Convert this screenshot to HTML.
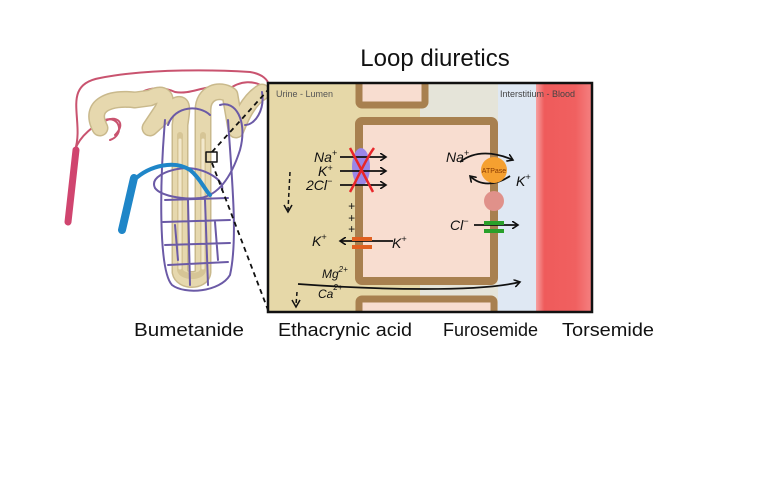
<!DOCTYPE html>
<html><head><meta charset="utf-8"><style>
html,body{margin:0;padding:0;background:#fff;width:768px;height:480px;overflow:hidden}
svg{display:block}
text{font-family:"Liberation Sans",sans-serif}
</style></head><body>
<svg width="768" height="480" viewBox="0 0 768 480" xmlns="http://www.w3.org/2000/svg">
<defs>
<linearGradient id="red" x1="0" x2="1" y1="0" y2="0">
<stop offset="0" stop-color="#f6a0a0"/><stop offset="0.15" stop-color="#ef5b5b"/><stop offset="0.7" stop-color="#f06060"/><stop offset="1" stop-color="#f58080"/></linearGradient>
<clipPath id="bx"><rect x="268" y="83" width="324" height="229"/></clipPath>
<marker id="ah" markerWidth="8" markerHeight="8" refX="6" refY="4" orient="auto" markerUnits="userSpaceOnUse"><path d="M0,0 L6,4 L0,8" fill="none" stroke="#111" stroke-width="1.6"/></marker>
</defs>
<text x="435" y="66" font-size="24" text-anchor="middle" fill="#111">Loop diuretics</text>

<!-- nephron -->
<g fill="none" stroke-linecap="round" stroke-linejoin="round">
<path d="M75 150 C85 120,60 85,100 78 C150 68,220 70,250 72 C275 76,272 95,262 100" stroke="#c9536f" stroke-width="2"/>
<path d="M75 150 C80 135,95 125,105 120 C120 115,125 135,110 140 M95 130 C110 110,130 120,115 135" stroke="#c9536f" stroke-width="2"/>
<path d="M135 100 C140 88,160 85,175 92 C190 95,205 85,215 88" stroke="#c9536f" stroke-width="2"/>
<path d="M228 90 C240 80,255 80,265 88" stroke="#c9536f" stroke-width="2"/>
<path d="M68 222 L76 150" stroke="#d0456f" stroke-width="7"/>
<!-- tubule: outline then fill -->
<g stroke="#c9b98c" stroke-width="17">
<path d="M100 128 C88 105,110 97,135 100 L150 98 C162 92,170 95,162 110 L150 128 L172 108 C185 98,182 110,180 125 L180 272 C182 282,202 282,203 272 L203 110 C203 92,220 88,230 95 L236 130 C240 120,248 100,262 92"/>
</g>
<g stroke="#e6d8ae" stroke-width="14">
<path d="M100 128 C88 105,110 97,135 100 L150 98 C162 92,170 95,162 110 L150 128 L172 108 C185 98,182 110,180 125 L180 272 C182 282,202 282,203 272 L203 110 C203 92,220 88,230 95 L236 130 C240 120,248 100,262 92"/>
</g>
<path d="M180 135 L180 270 C182 278,202 278,203 270 L203 135" stroke="#d6c596" stroke-width="6"/>
<path d="M180 140 L180 268 M203 140 L203 268" stroke="#f2e8cc" stroke-width="3"/>
<g stroke="#6b5aa6" stroke-width="2">
<path d="M165 120 C160 180,158 270,172 285 C185 295,220 292,230 275 C238 240,232 180,228 120"/>
<path d="M168 125 C175 105,200 105,210 115 M220 105 C235 100,248 120,240 150 C232 175,220 195,200 198 C180 200,160 195,155 188 C150 178,165 170,185 168 C205 168,225 180,222 190"/>
<path d="M165 200 L228 198 M163 222 L230 220 M165 245 L230 243 M168 265 L228 262 M188 200 L190 285 M205 200 L208 285 M175 225 L178 260 M215 222 L218 260"/>
<path d="M262 92 C265 110,255 125,245 125"/>
</g>
<path d="M122 230 L134 178" stroke="#1f86c8" stroke-width="8"/>
<path d="M134 180 C150 165,175 160,190 170 C200 178,205 190,210 195" stroke="#1f86c8" stroke-width="4"/>
<rect x="206" y="152" width="11" height="10" stroke="#111" stroke-width="1.5"/>
</g>
<path d="M212 152 L268 90" stroke="#111" stroke-width="1.8" stroke-dasharray="5,4"/>
<path d="M212 163 L268 310" stroke="#111" stroke-width="1.8" stroke-dasharray="5,4"/>

<!-- box -->
<g clip-path="url(#bx)">
<rect x="268" y="83" width="324" height="229" fill="#e6d8a8"/>
<rect x="420" y="83" width="116" height="229" fill="#dfe8f3"/>
<rect x="420" y="83" width="78" height="229" fill="#ecdfc0" opacity="0.5"/>
<rect x="536" y="83" width="56" height="229" fill="url(#red)"/>
<rect x="359" y="75" width="66" height="30" rx="3" fill="#f8ddd0" stroke="#a8804f" stroke-width="7"/>
<rect x="359" y="121" width="135" height="160" rx="3" fill="#f8ddd0" stroke="#a8804f" stroke-width="8"/>
<rect x="359" y="299" width="135" height="30" rx="3" fill="#f8ddd0" stroke="#a8804f" stroke-width="7"/>
</g>
<rect x="268" y="83" width="324" height="229" fill="none" stroke="#111" stroke-width="2.5"/>
<text x="276" y="97" font-size="9" fill="#555">Urine - Lumen</text>
<text x="500" y="97" font-size="9" fill="#444">Interstitium - Blood</text>

<!-- NKCC -->
<ellipse cx="361" cy="167" rx="9" ry="19" fill="#9a86e8"/>
<g stroke="#111" stroke-width="1.8" fill="none" marker-end="url(#ah)">
<path d="M340 157 L386 157"/><path d="M340 171 L386 171"/><path d="M340 185 L386 185"/>
<path d="M393 241 L340 241"/>
<path d="M460 162 C475 150,495 152,513 160"/>
<path d="M510 176 C495 186,480 186,470 176"/>
<path d="M474 225 L518 225"/>
<path d="M298 284 C380 290,480 292,520 282"/>
</g>
<path d="M350 148 L373 192 M374 148 C365 160,358 178,350 192" stroke="#e8262a" stroke-width="2.5" fill="none"/>
<g font-size="14" fill="#111" font-style="italic">
<text x="314" y="162">Na<tspan font-size="9" dy="-6">+</tspan></text>
<text x="318" y="176">K<tspan font-size="9" dy="-5">+</tspan></text>
<text x="306" y="190">2Cl<tspan font-size="9" dy="-6">−</tspan></text>
<text x="348" y="210" font-size="12">+</text>
<text x="348" y="222" font-size="12">+</text>
<text x="348" y="233" font-size="12">+</text>
<text x="312" y="246">K<tspan font-size="9" dy="-6">+</tspan></text>
<text x="392" y="248">K<tspan font-size="9" dy="-6">+</tspan></text>
<text x="322" y="278" font-size="12">Mg<tspan font-size="8" dy="-6">2+</tspan></text>
<text x="318" y="298" font-size="12">Ca<tspan font-size="8" dy="-8">2+</tspan></text>
<text x="446" y="162">Na<tspan font-size="9" dy="-6">+</tspan></text>
<text x="516" y="186">K<tspan font-size="9" dy="-6">+</tspan></text>
<text x="450" y="230">Cl<tspan font-size="9" dy="-6">−</tspan></text>
</g>
<rect x="352" y="237" width="20" height="4" fill="#e06020"/><rect x="352" y="245" width="20" height="4" fill="#e06020"/>
<circle cx="494" cy="170" r="13" fill="#f5a030"/>
<text x="494" y="173" font-size="7" text-anchor="middle" fill="#8a3a00">ATPase</text>
<circle cx="494" cy="201" r="10" fill="#e0918a"/>
<rect x="484" y="221" width="20" height="4" fill="#2aa02a"/><rect x="484" y="229" width="20" height="4" fill="#2aa02a"/>
<g stroke="#111" stroke-width="1.5" fill="none" stroke-dasharray="4,3">
<path d="M290 172 L288 210"/><path d="M297 292 L296 305"/>
</g>
<path d="M284 205 L288 212 L292 205 M292 300 L296 307 L300 300" stroke="#111" stroke-width="1.5" fill="none"/>

<g font-size="18" fill="#111">
<text x="134" y="336" textLength="110" lengthAdjust="spacingAndGlyphs">Bumetanide</text>
<text x="278" y="336" textLength="134" lengthAdjust="spacingAndGlyphs">Ethacrynic acid</text>
<text x="443" y="336" textLength="95" lengthAdjust="spacingAndGlyphs">Furosemide</text>
<text x="562" y="336" textLength="92" lengthAdjust="spacingAndGlyphs">Torsemide</text>
</g>
</svg>
</body></html>
